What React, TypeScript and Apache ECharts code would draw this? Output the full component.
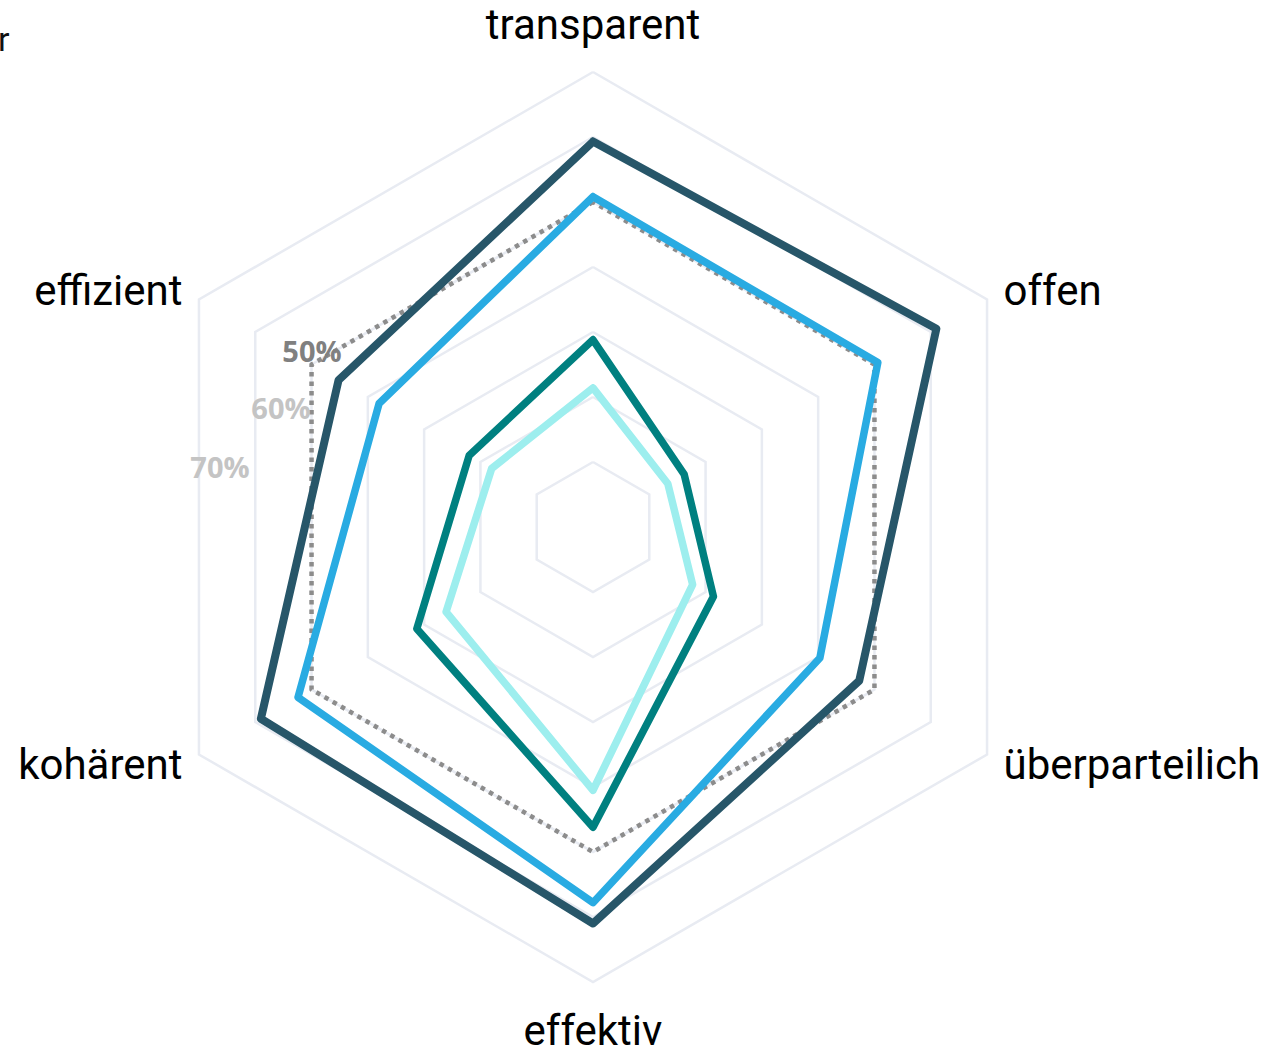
import React, { useEffect, useRef } from "react";
import * as echarts from "echarts";

// Indicators in ECharts' (counter-clockwise) order, starting at the top
const indicators = ["transparent", "effizient", "kohärent", "effektiv", "überparteilich", "offen"];
const maxValue = 70;

const seriesNames = ["Referenz", "Serie A", "Serie B", "Serie C", "Serie D"];
const referenceValues = [50, 50, 50, 50, 50, 50];
const darkValues = [59.3, 45.2, 59.0, 61.0, 47.3, 61.0];
const blueValues = [50.8, 38.0, 52.4, 57.8, 40.3, 50.6];
const tealValues = [28.8, 22.0, 31.3, 46.2, 21.4, 16.2];
const cyanValues = [21.4, 18.0, 26.1, 40.5, 17.7, 13.3];

const ringLabels = ["50%", "60%", "70%"];

export default function App() {
  const ref = useRef<HTMLDivElement>(null);
  useEffect(() => {
    if (!ref.current) return;
    const chart = echarts.init(ref.current, undefined, { renderer: "svg" });
    const mk = (name: string, values: number[], color: string, width: number, type: any, cap: string) => ({
      type: "radar",
      name,
      symbol: "none",
      data: [{ value: values, name }],
      lineStyle: { color, width, type, cap, join: "round" },
      itemStyle: { color },
      z: 2,
    });
    chart.setOption({
      animation: false,
      backgroundColor: "#ffffff",
      radar: {
        center: [593, 527],
        radius: 455,
        startAngle: 90,
        splitNumber: 7,
        shape: "polygon",
        indicator: indicators.map((n) => ({ name: n, max: maxValue, min: 0 })),
        nameGap: 19,
        axisName: {
          color: "#000000",
          fontSize: 42,
          fontFamily: "Roboto",
          padding: [8, 0, 8, 0],
        },
        axisLine: { show: false },
        axisTick: { show: false },
        axisLabel: { show: false },
        splitArea: { show: false },
        splitLine: { lineStyle: { color: "#E8EBF2", width: 2.5 } },
      },
      series: [
        mk(seriesNames[0], referenceValues, "#8c8c8c", 4.5, [4.5, 5], "butt"),
        mk(seriesNames[4], cyanValues, "#9DEEEE", 7.5, "solid", "round"),
        mk(seriesNames[3], tealValues, "#008080", 7.5, "solid", "round"),
        mk(seriesNames[2], blueValues, "#29ABE2", 7.5, "solid", "round"),
        mk(seriesNames[1], darkValues, "#275669", 8, "solid", "round"),
      ],
      graphic: [
        {
          type: "text",
          x: 312,
          y: 350,
          z: 10,
          style: {
            text: ringLabels[0],
            fill: "#808080",
            font: "bold 29px 'Open Sans'",
            align: "center",
            verticalAlign: "middle",
          },
        },
        {
          type: "text",
          x: 281,
          y: 407,
          z: 10,
          style: {
            text: ringLabels[1],
            fill: "#C4C4C4",
            font: "bold 29px 'Open Sans'",
            align: "center",
            verticalAlign: "middle",
          },
        },
        {
          type: "text",
          x: 220,
          y: 466,
          z: 10,
          style: {
            text: ringLabels[2],
            fill: "#C4C4C4",
            font: "bold 29px 'Open Sans'",
            align: "center",
            verticalAlign: "middle",
          },
        },
        {
          type: "text",
          x: -2,
          y: 39,
          style: {
            text: "r",
            fill: "#111111",
            font: "34px Roboto",
            align: "left",
            verticalAlign: "middle",
          },
        },
      ],
    });
    return () => chart.dispose();
  }, []);
  return (
    <div
      ref={ref}
      style={{ position: "fixed", left: 0, top: 0, width: 1281, height: 1046, background: "#fff" }}
    />
  );
}
